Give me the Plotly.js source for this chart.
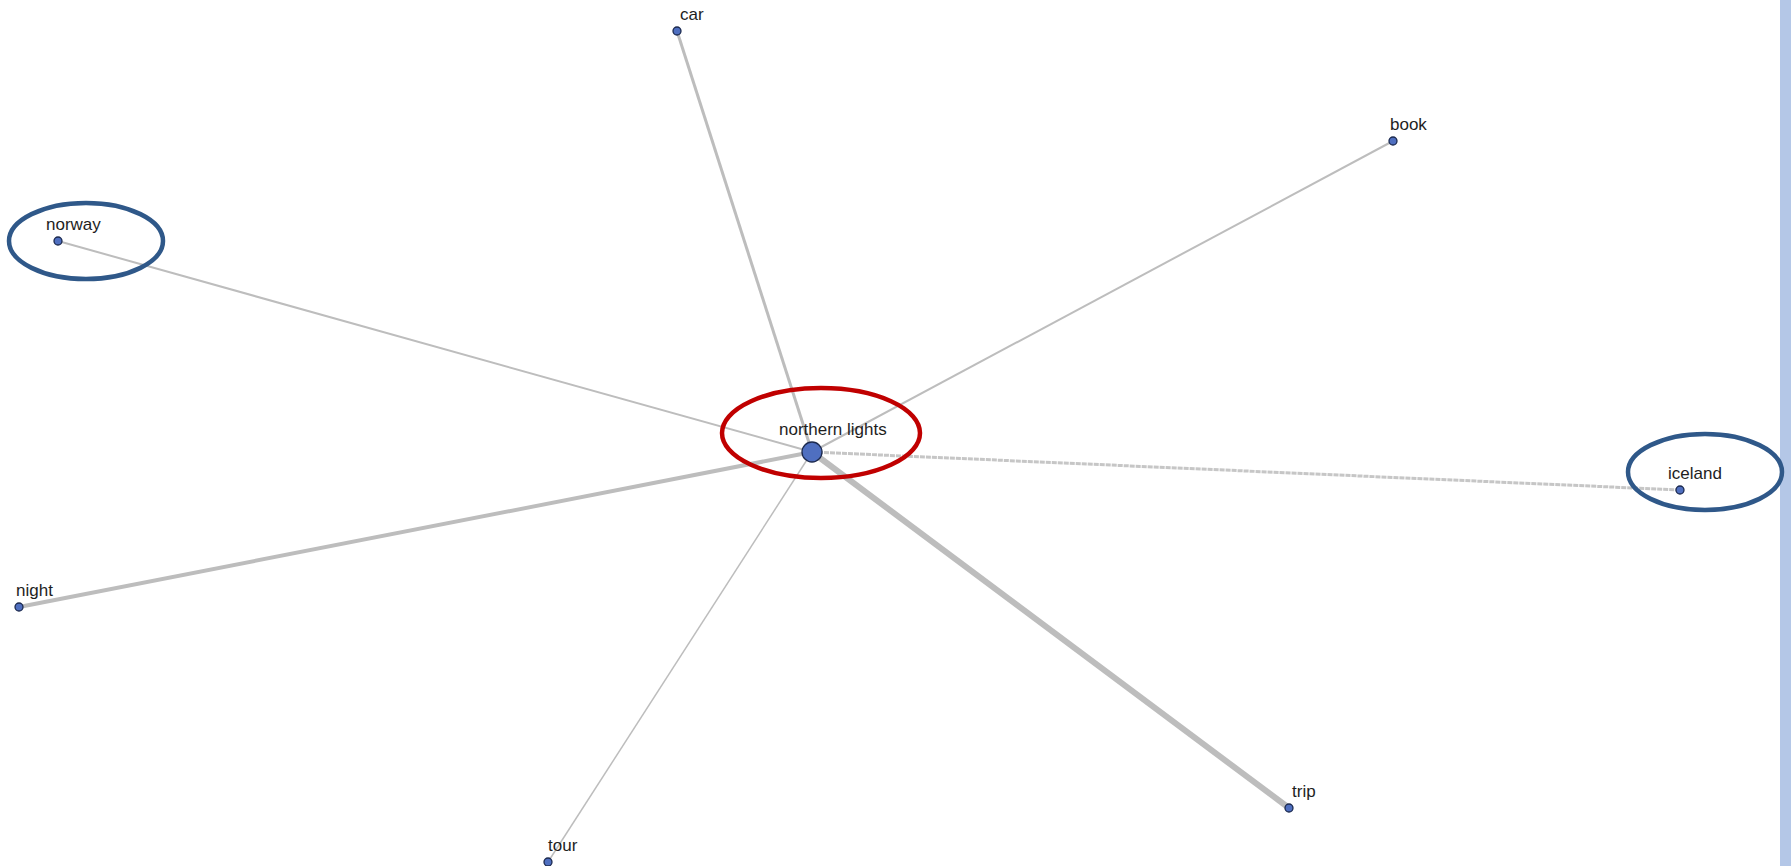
<!DOCTYPE html>
<html>
<head>
<meta charset="utf-8">
<script src="https://cdn.plot.ly/plotly-3.0.1.min.js"></script>
<style>html,body{margin:0;padding:0;background:#fff;overflow:hidden}#chart{width:1791px;height:866px}</style>
</head>
<body>
<div id="chart"></div>
<script>
// Network data (layout positions in a 1791 x 866 plane, y downward)
const hubName = "northern lights";
const hubX = 812;
const hubY = 452;
const nodeNames = ["car", "book", "norway", "iceland", "night", "tour", "trip"];
const nodeX = [677, 1393, 58, 1680, 19, 548, 1289];
const nodeY = [31, 141, 241, 490, 607, 862, 808];
const edgeWeight = [3, 2, 2, 3, 4, 1.5, 6];
const edgeDash = ["solid", "solid", "solid", "5px,1px", "solid", "solid", "solid"];

const edgeColor = "#bdbdbd";
const nodeColor = "#4f6fc0";
const nodeLine = "#1c2a4f";
const smallSize = 8;
const hubSize = 20;

const traces = [];
nodeNames.forEach((n, i) => {
  traces.push({
    type: "scatter", mode: "lines",
    x: [hubX, nodeX[i]], y: [hubY, nodeY[i]],
    line: {color: n === "iceland" ? "#c6c6c6" : edgeColor, width: edgeWeight[i], dash: edgeDash[i]},
    hoverinfo: "skip", showlegend: false
  });
});
const allX = nodeX.concat([hubX]);
const allY = nodeY.concat([hubY]);
const allNames = nodeNames.concat([hubName]);
const allSize = nodeNames.map(() => smallSize).concat([hubSize]);
traces.push({
  type: "scatter", mode: "markers",
  x: allX, y: allY, text: allNames,
  marker: {color: nodeColor, size: allSize, opacity: 1, line: {color: nodeLine, width: 1.3}},
  hoverinfo: "text", showlegend: false
});

const annotations = allNames.map((n, i) => ({
  x: allX[i], y: allY[i], xref: "x", yref: "y",
  text: n, showarrow: false,
  xshift: allSize[i] / 2 + 11, yshift: allSize[i] / 2 + 13,
  xanchor: "center", yanchor: "middle",
  font: {family: "Liberation Sans, Arial, sans-serif", size: 17, color: "#1e1e1e"}
}));

const shapes = [
  {type: "rect", xref: "paper", yref: "paper", x0: 1780 / 1791, x1: 1, y0: 0, y1: 1,
   fillcolor: "#b4c7e7", line: {width: 0}, layer: "below"},
  {type: "circle", xref: "x", yref: "y", x0: 722, x1: 920, y0: 388, y1: 478,
   line: {color: "#c00000", width: 4.5}},
  {type: "circle", xref: "x", yref: "y", x0: 9, x1: 163, y0: 203, y1: 279,
   line: {color: "#2f5889", width: 4.5}},
  {type: "circle", xref: "x", yref: "y", x0: 1628, x1: 1782, y0: 434, y1: 510,
   line: {color: "#2f5889", width: 4.5}}
];

const layout = {
  width: 1791, height: 866,
  margin: {l: 0, r: 0, t: 0, b: 0},
  paper_bgcolor: "#ffffff", plot_bgcolor: "rgba(0,0,0,0)",
  xaxis: {range: [0, 1791], visible: false, fixedrange: true},
  yaxis: {range: [866, 0], visible: false, fixedrange: true},
  showlegend: false,
  annotations: annotations,
  shapes: shapes
};

Plotly.newPlot("chart", traces, layout, {displayModeBar: false, staticPlot: true});
</script>
</body>
</html>
